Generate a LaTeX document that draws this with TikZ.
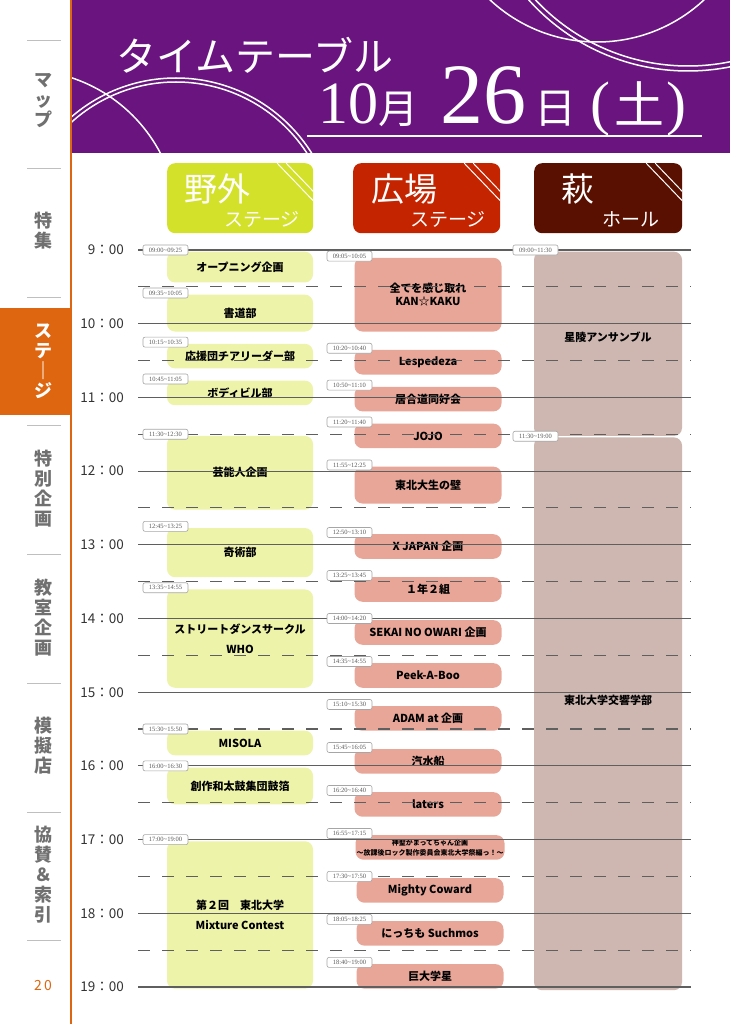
\documentclass[tikz,border=0pt]{standalone}
\usepackage{fontspec}
\setmainfont{Noto Sans CJK JP}
\newfontfamily\tagfont{Liberation Serif}
\newfontfamily\datefont{Liberation Serif}
\usetikzlibrary{positioning}

\definecolor{headpurple}{RGB}{106,20,128}
\definecolor{sideorange}{RGB}{222,102,16}
\definecolor{sidegray}{RGB}{112,112,112}
\definecolor{yagai}{RGB}{212,225,42}
\definecolor{hiroba}{RGB}{196,36,0}
\definecolor{hagi}{RGB}{90,16,0}
\definecolor{yagaient}{RGB}{238,243,170}
\definecolor{hiroent}{RGB}{232,166,152}
\definecolor{hagient}{RGB}{206,183,177}
\definecolor{gridgray}{RGB}{95,95,95}

\newcommand{\fs}[1]{\fontsize{#1}{#1}\selectfont}

\tikzset{
  declare function={tm(\h,\m)=250+1.2283*((\h-9)*60+\m);},
  entry/.style={anchor=north, rounded corners=8, inner sep=1, align=center,
    font=\bfseries\fontsize{11}{13}\selectfont},
  yent/.style={entry, fill=yagaient, minimum width=146},
  rent/.style={entry, fill=hiroent, minimum width=147},
  hent/.style={entry, fill=hagient, minimum width=148},
  timetag/.style={draw=gray!70, fill=white, rounded corners=2, line width=0.6,
    minimum width=45, minimum height=10, inner sep=0.5,
    font=\tagfont\fs{6.5}, text=gray!70!black},
  hourline/.style={gridgray, line width=1.1},
  halfline/.style={gridgray, line width=1.1, dash pattern=on 12pt off 12pt},
  stagehead/.style={anchor=north west, rounded corners=8, minimum width=146,
    minimum height=70, path picture={
      \draw[white, line width=1] ([xshift=-36pt]path picture bounding box.north east) -- ++(48,50);
      \draw[white, line width=1] ([xshift=-27pt]path picture bounding box.north east) -- ++(48,50);}},
  stagetxt/.style={text=white, inner sep=0},
  sidetxt/.style={text=sidegray, align=center, inner sep=0,
    font=\bfseries\fontsize{18}{20}\selectfont},
  sidesep/.style={gray!50, line width=0.8},
  timelbl/.style={anchor=east, inner sep=0, text=black!80, font=\fs{13.5}}
}

\begin{document}
\begin{tikzpicture}[x=1pt, y=-1pt]
  \useasboundingbox (0,0) rectangle (730,1024);
  \fill[white] (0,0) rectangle (730,1024);

  % The purple header
  \fill[headpurple] (72,0) rectangle (730,153);
  \begin{scope}
    \clip (72,0) rectangle (730,153);
    \draw[white, line width=1.5] (597,-115) circle (157);
    \draw[white, line width=1.5] (688,-143) circle (209);
    \draw[white, line width=1.5] (688,-143) circle (214);
    \draw[white, line width=1.5] (23,225) circle (155);
    \draw[white, line width=1.5] (176,238) circle (156);
    \draw[white, line width=1.5] (176,238) circle (160);
  \end{scope}
  \node[text=white, anchor=base west, inner sep=0, font=\fs{40}] (title) at (116,72) {タイムテーブル};
  \node[text=white, anchor=base west, inner sep=0] (date) at (318,124)
    {{\datefont\fs{60}10}{\fs{40}月}\hspace{22pt}{\datefont\fs{86}26}\hspace{8pt}{\fs{42}日}\hspace{14pt}{\datefont\fs{60}(}\hspace{4pt}{\fs{50}土}\hspace{2pt}{\datefont\fs{60})}};
  \draw[white, line width=2.5] (307,136) -- (702,136);

  % The sidebar
  \fill[sideorange] (0,308) rectangle (70,415);
  \draw[sideorange, line width=2] (71,0) -- (71,1024);
  \foreach \y in {40,168,297,425,554,683,812,940}
    \draw[sidesep] (27,\y) -- (61,\y);
  \node[sidetxt] (map) at (43,101) {マ\\ッ\\プ};
  \node[sidetxt] (tokushu) at (43,231) {特\\集};
  \node[sidetxt, text=white] (stage) at (43,361) {ス\\テ\\｜\\ジ};
  \node[sidetxt] (tokubetsu) at (43,489) {特\\別\\企\\画};
  \node[sidetxt] (kyoshitsu) at (43,618) {教\\室\\企\\画};
  \node[sidetxt] (mogiten) at (43,746) {模\\擬\\店};
  \node[sidetxt] (kyosan) at (43,875) {協\\賛\\＆\\索\\引};
  \node[text=sideorange, inner sep=0, font=\fs{14}] (page) at (43,985) {2\,0};

  % The stage headers
  \node[stagehead, fill=yagai] (yagai) at (167,163) {};
  \node[stagetxt, font=\fs{33}] (yagai-t) at (217,189) {野外};
  \node[stagetxt, font=\fs{19}] (yagai-s) at (262,219) {ステージ};
  \node[stagehead, fill=hiroba, minimum width=147] (hiroba) at (353,163) {};
  \node[stagetxt, font=\fs{33}] (hiroba-t) at (404,189) {広場};
  \node[stagetxt, font=\fs{19}] (hiroba-s) at (448,219) {ステージ};
  \node[stagehead, fill=hagi, minimum width=148] (hagi) at (534,163) {};
  \node[stagetxt, font=\fs{33}] (hagi-t) at (578,189) {萩};
  \node[stagetxt, font=\fs{19}] (hagi-s) at (631,219) {ホール};

  % 野外ステージ
  \node[yent, minimum height={tm(9,25)-tm(9,0)}] (opening) at (240,{tm(9,0)+1.5}) {オープニング企画};
  \node[yent, minimum height={tm(10,5)-tm(9,35)}] (shodo) at (240,{tm(9,35)+1.5}) {書道部};
  \node[yent, minimum height={tm(10,35)-tm(10,15)}] (ouen) at (240,{tm(10,15)+1.5}) {応援団チアリーダー部};
  \node[yent, minimum height={tm(11,5)-tm(10,45)}] (body) at (240,{tm(10,45)+1.5}) {ボディビル部};
  \node[yent, minimum height={tm(12,30)-tm(11,30)}] (geinou) at (240,{tm(11,30)+1.5}) {芸能人企画};
  \node[yent, minimum height={tm(13,25)-tm(12,45)}] (kijutsu) at (240,{tm(12,45)+1.5}) {奇術部};
  \node[yent, minimum height={tm(14,55)-tm(13,35)}, font=\bfseries\fontsize{11}{20}\selectfont] (street) at (240,{tm(13,35)+1.5}) {ストリートダンスサークル\\WHO};
  \node[yent, minimum height={tm(15,50)-tm(15,30)}] (misola) at (240,{tm(15,30)+1.5}) {MISOLA};
  \node[yent, minimum height={tm(16,30)-tm(16,0)}] (taiko) at (240,{tm(16,0)+1.5}) {創作和太鼓集団鼓箔};
  \node[yent, minimum height={tm(19,0)-tm(17,0)}, font=\bfseries\fontsize{11}{20}\selectfont] (mixture) at (240,{tm(17,0)+1.5}) {第２回　東北大学\\Mixture Contest};

  % 広場ステージ
  \node[rent, minimum height={tm(10,5)-tm(9,5)}] (kankaku) at (428,{tm(9,5)+1.5}) {全てを感じ取れ\\KAN☆KAKU};
  \node[rent, minimum height={tm(10,40)-tm(10,20)}] (lespedeza) at (428,{tm(10,20)+1.5}) {Lespedeza};
  \node[rent, minimum height={tm(11,10)-tm(10,50)}] (iaido) at (428,{tm(10,50)+1.5}) {居合道同好会};
  \node[rent, minimum height={tm(11,40)-tm(11,20)}] (jojo) at (428,{tm(11,20)+1.5}) {JOJO};
  \node[rent, minimum height={tm(12,25)-tm(11,55)}] (kabe) at (428,{tm(11,55)+1.5}) {東北大生の壁};
  \node[rent, minimum height={tm(13,10)-tm(12,50)}] (xjapan) at (428,{tm(12,50)+1.5}) {X JAPAN 企画};
  \node[rent, minimum height={tm(13,45)-tm(13,25)}] (ichinen) at (428,{tm(13,25)+1.5}) {１年２組};
  \node[rent, minimum height={tm(14,20)-tm(14,0)}] (sekaowa) at (428,{tm(14,0)+1.5}) {SEKAI NO OWARI 企画};
  \node[rent, minimum height={tm(14,55)-tm(14,35)}] (peek) at (428,{tm(14,35)+1.5}) {Peek-A-Boo};
  \node[rent, minimum height={tm(15,30)-tm(15,10)}] (adam) at (428,{tm(15,10)+1.5}) {ADAM at 企画};
  \node[rent, minimum height={tm(16,5)-tm(15,45)}] (kisui) at (428,{tm(15,45)+1.5}) {汽水船};
  \node[rent, minimum height={tm(16,40)-tm(16,20)}] (laters) at (428,{tm(16,20)+1.5}) {laters};
  \node[rent, minimum height={tm(17,15)-tm(16,55)}, font=\bfseries\fontsize{7}{10}\selectfont] (kamatte) at (430,{tm(16,55)+1.5}) {神聖かまってちゃん企画\\～放課後ロック製作委員会東北大学祭編っ！～};
  \node[rent, minimum height={tm(17,50)-tm(17,30)}] (mighty) at (430,{tm(17,30)+1.5}) {Mighty Coward};
  \node[rent, minimum height={tm(18,25)-tm(18,5)}] (suchmos) at (430,{tm(18,5)+1.5}) {にっちも Suchmos};
  \node[rent, minimum height={tm(19,0)-tm(18,40)}] (kyodai) at (430,{tm(18,40)+1.5}) {巨大学星};

  % 萩ホール
  \node[hent, minimum height={tm(11,30)-tm(9,0)}] (seiryo) at (608,{tm(9,0)+1.5}) {};
  \node[font=\bfseries\fs{11}] (seiryo-t) at (608,337) {星陵アンサンブル};
  \node[hent, minimum height={tm(19,0)-tm(11,30)}] (kyokyo) at (608,{tm(11,30)+3}) {};
  \node[font=\bfseries\fs{11}] (kyokyo-t) at (608,700) {東北大学交響学部};

  % The lines!
  \foreach \h in {9,...,19} {
    \draw[hourline] (138,{tm(\h,0)}) -- (691,{tm(\h,0)});
    \node[timelbl] (t\h) at (124,{tm(\h,0)}) {\h：00};
  }
  \foreach \h in {9,...,18}
    \draw[halfline] (138,{tm(\h,30)}) -- (691,{tm(\h,30)});

  % Time tags
  \node[timetag] (opening-tag) at (165.5,{tm(9,0)}) {09:00\textasciitilde09:25};
  \node[timetag] (shodo-tag) at (165.5,{tm(9,35)}) {09:35\textasciitilde10:05};
  \node[timetag] (ouen-tag) at (165.5,{tm(10,15)}) {10:15\textasciitilde10:35};
  \node[timetag] (body-tag) at (165.5,{tm(10,45)}) {10:45\textasciitilde11:05};
  \node[timetag] (geinou-tag) at (165.5,{tm(11,30)}) {11:30\textasciitilde12:30};
  \node[timetag] (kijutsu-tag) at (165.5,{tm(12,45)}) {12:45\textasciitilde13:25};
  \node[timetag] (street-tag) at (165.5,{tm(13,35)}) {13:35\textasciitilde14:55};
  \node[timetag] (misola-tag) at (165.5,{tm(15,30)}) {15:30\textasciitilde15:50};
  \node[timetag] (taiko-tag) at (165.5,{tm(16,0)}) {16:00\textasciitilde16:30};
  \node[timetag] (mixture-tag) at (165.5,{tm(17,0)}) {17:00\textasciitilde19:00};

  \node[timetag] (kankaku-tag) at (349.5,{tm(9,5)}) {09:05\textasciitilde10:05};
  \node[timetag] (lespedeza-tag) at (349.5,{tm(10,20)}) {10:20\textasciitilde10:40};
  \node[timetag] (iaido-tag) at (349.5,{tm(10,50)}) {10:50\textasciitilde11:10};
  \node[timetag] (jojo-tag) at (349.5,{tm(11,20)}) {11:20\textasciitilde11:40};
  \node[timetag] (kabe-tag) at (349.5,{tm(11,55)}) {11:55\textasciitilde12:25};
  \node[timetag] (xjapan-tag) at (349.5,{tm(12,50)}) {12:50\textasciitilde13:10};
  \node[timetag] (ichinen-tag) at (349.5,{tm(13,25)}) {13:25\textasciitilde13:45};
  \node[timetag] (sekaowa-tag) at (349.5,{tm(14,0)}) {14:00\textasciitilde14:20};
  \node[timetag] (peek-tag) at (349.5,{tm(14,35)}) {14:35\textasciitilde14:55};
  \node[timetag] (adam-tag) at (349.5,{tm(15,10)}) {15:10\textasciitilde15:30};
  \node[timetag] (kisui-tag) at (349.5,{tm(15,45)}) {15:45\textasciitilde16:05};
  \node[timetag] (laters-tag) at (349.5,{tm(16,20)}) {16:20\textasciitilde16:40};
  \node[timetag] (kamatte-tag) at (349.5,{tm(16,55)}) {16:55\textasciitilde17:15};
  \node[timetag] (mighty-tag) at (349.5,{tm(17,30)}) {17:30\textasciitilde17:50};
  \node[timetag] (suchmos-tag) at (349.5,{tm(18,5)}) {18:05\textasciitilde18:25};
  \node[timetag] (kyodai-tag) at (349.5,{tm(18,40)}) {18:40\textasciitilde19:00};

  \node[timetag] (seiryo-tag) at (535.5,{tm(9,0)}) {09:00\textasciitilde11:30};
  \node[timetag] (kyokyo-tag) at (535.5,{tm(11,30)+2}) {11:30\textasciitilde19:00};
\end{tikzpicture}
\end{document}
